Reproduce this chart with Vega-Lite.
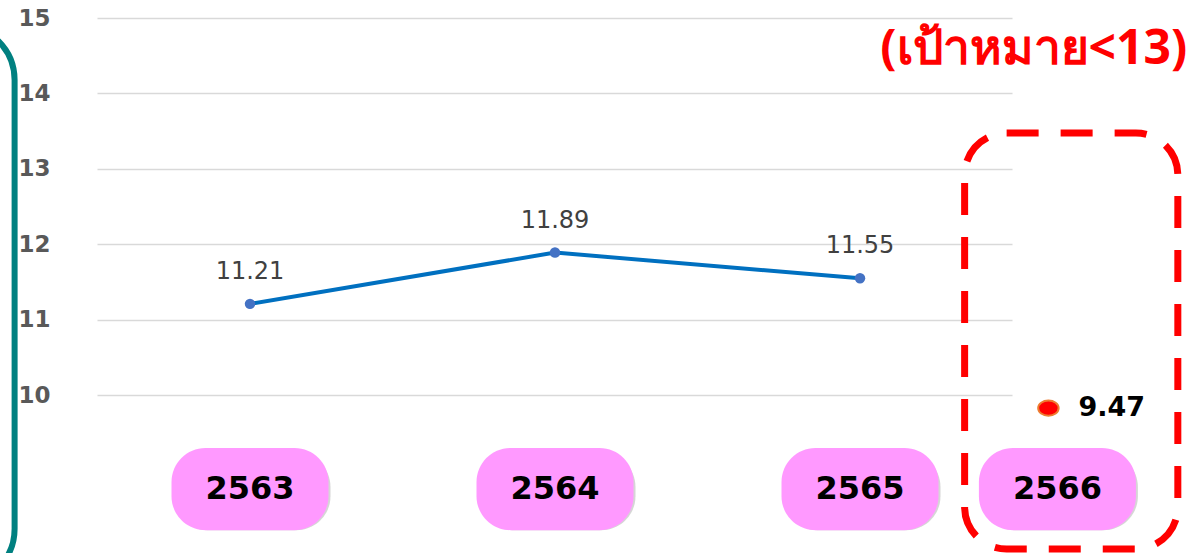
{
  "$schema": "https://vega.github.io/schema/vega-lite/v6.json",
  "width": 915,
  "height": 528,
  "autosize": {"type": "none"},
  "padding": {"left": 97, "top": 18, "right": 181, "bottom": 7},
  "background": "white",
  "config": {
    "view": {"stroke": null},
    "font": "DejaVu Sans",
    "axisY": {"domain": false, "ticks": false, "grid": true, "gridColor": "#d9d9d9", "gridWidth": 1.5,
      "labelPadding": 47, "labelFontSize": 23, "labelFontWeight": "bold", "labelColor": "#595959",
      "labelFont": "DejaVu Sans", "title": null}
  },
  "data": {"values": [
    {"year": 2563, "value": 11.21, "series": "actual"},
    {"year": 2564, "value": 11.89, "series": "actual"},
    {"year": 2565, "value": 11.55, "series": "actual"},
    {"year": 2566, "value": 9.47, "series": "current"}
  ]},
  "encoding": {
    "x": {"field": "year", "type": "quantitative", "axis": null,
      "scale": {"domain": [2562.498, 2563, 2564, 2565, 2565.752], "range": [0, 153, 458, 763, 915], "zero": false, "nice": false}},
    "y": {"field": "value", "type": "quantitative",
      "scale": {"domain": [8, 15], "zero": false, "nice": false},
      "axis": {"values": [10, 11, 12, 13, 14, 15], "title": null, "grid": true, "labelFontSize": 23,
        "labelFont": "DejaVu Sans", "labelFontWeight": "bold", "labelColor": "#595959", "labelPadding": 47}}
  },
  "layer": [
    {
      "transform": [{"filter": "datum.series == 'actual'"}],
      "mark": {"type": "line", "color": "#0070C0", "strokeWidth": 4}
    },
    {
      "transform": [{"filter": "datum.year == 2563"}],
      "mark": {"type": "rect", "filled": false, "stroke": "#008080", "strokeWidth": 6, "cornerRadius": 55},
      "encoding": {
        "x": {"datum": 2561.5, "type": "quantitative"},
        "x2": {"datum": 2562.2},
        "y": {"datum": 14.907, "type": "quantitative"},
        "y2": {"datum": 7.5}
      }
    },
    {
      "transform": [{"filter": "datum.series == 'actual'"}],
      "mark": {"type": "circle", "color": "#4472C4", "size": 110, "opacity": 1}
    },
    {
      "transform": [{"filter": "datum.series == 'actual'"}],
      "mark": {"type": "text", "dy": -32, "fontSize": 24, "font": "DejaVu Sans", "color": "#404040", "baseline": "middle"},
      "encoding": {"text": {"field": "value", "type": "quantitative", "format": ".2f"}}
    },
    {
      "transform": [{"filter": "datum.series == 'current'"}],
      "mark": {"type": "point", "shape": "M-1,0A1,0.75,0,1,1,1,0A1,0.75,0,1,1,-1,0Z", "filled": true, "fill": "#FF0000", "stroke": "#ED7D31", "strokeWidth": 2, "size": 420, "opacity": 1, "xOffset": -9, "yOffset": -27}
    },
    {
      "transform": [{"filter": "datum.series == 'current'"}],
      "mark": {"type": "text", "align": "left", "baseline": "middle", "dx": 21, "yOffset": -27, "fontSize": 27, "font": "DejaVu Sans", "fontWeight": "bold", "color": "#000000"},
      "encoding": {"text": {"field": "value", "type": "quantitative", "format": ".2f"}}
    },
    {
      "mark": {"type": "bar", "width": 157, "cornerRadius": 34, "fill": "#999999", "opacity": 0.4, "xOffset": 2, "yOffset": 5},
      "encoding": {"y": {"datum": 9.3, "type": "quantitative"}, "y2": {"datum": 8.21}}
    },
    {
      "mark": {"type": "bar", "width": 157, "cornerRadius": 34, "fill": "#FF99FF", "opacity": 1},
      "encoding": {"y": {"datum": 9.3, "type": "quantitative"}, "y2": {"datum": 8.21}}
    },
    {
      "mark": {"type": "text", "fontSize": 32, "font": "DejaVu Sans", "fontWeight": "bold", "color": "#000000", "baseline": "middle"},
      "encoding": {"y": {"datum": 8.755, "type": "quantitative"}, "text": {"field": "year", "type": "nominal"}}
    },
    {
      "transform": [{"filter": "datum.year == 2566"}],
      "mark": {"type": "rect", "filled": false, "stroke": "#FF0000", "strokeWidth": 7, "strokeDash": [32, 22], "cornerRadius": 42},
      "encoding": {
        "x": {"datum": 2565.53, "type": "quantitative"},
        "x2": {"datum": 2566.61},
        "y": {"datum": 13.475, "type": "quantitative"},
        "y2": {"datum": 7.96}
      }
    },
    {
      "transform": [{"filter": "datum.year == 2566"}],
      "mark": {"type": "text", "fontSize": 48, "font": "Open Sans", "fontWeight": "bold", "color": "#FF0000", "align": "center", "baseline": "middle"},
      "encoding": {
        "x": {"datum": 2565.88, "type": "quantitative"},
        "y": {"datum": 14.58, "type": "quantitative"},
        "text": {"value": "(เป้าหมาย<13)"}
      }
    }
  ]
}
